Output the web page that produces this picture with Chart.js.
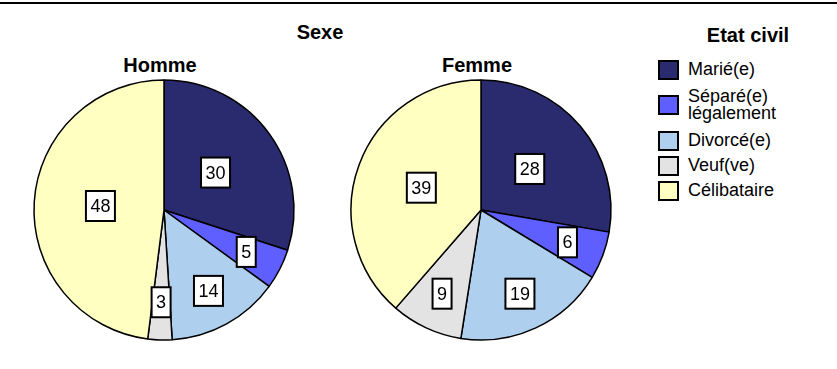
<!DOCTYPE html>
<html lang="fr">
<head>
<meta charset="utf-8">
<title>Etat civil selon le sexe</title>
<script src="https://cdn.jsdelivr.net/npm/chart.js@4.4.1/dist/chart.umd.min.js"></script>
<style>
    body { margin: 0; width: 837px; height: 369px; background: #fff; position: relative; overflow: hidden; font-family: "Liberation Sans", Arial, sans-serif; color: #000; }
    .rule { position: absolute; left: 0; top: 2px; width: 837px; height: 2px; background: #000; }
    .heading { position: absolute; font-weight: bold; font-size: 20px; line-height: 24px; transform: translate(-50%, -50%); white-space: nowrap; }
    canvas { position: absolute; }
    #legend { position: absolute; left: 658px; top: 57px; }
    .item { display: flex; align-items: center; min-height: 25px; font-size: 18px; line-height: 17px; }
    .item.multi { padding: 6px 0; }
    .swatch { box-sizing: border-box; width: 21px; height: 20px; border: 2px solid #000; margin-right: 9px; flex: none; }
</style>
</head>
<body>
<div class="rule"></div>
<div class="heading" style="left:320px;top:32px">Sexe</div>
<div class="heading" style="left:160px;top:65px">Homme</div>
<div class="heading" style="left:477px;top:65px">Femme</div>
<div class="heading" style="left:748px;top:35px">Etat civil</div>
<div id="legend"></div>
<canvas id="homme" width="270" height="270" style="left:29px;top:75px"></canvas>
<canvas id="femme" width="270" height="270" style="left:346px;top:75px"></canvas>
<script>
const categories = [['Marié(e)'], ['Séparé(e)', 'légalement'], ['Divorcé(e)'], ['Veuf(ve)'], ['Célibataire']];
const hommeValues = [30, 5, 14, 3, 48];
const femmeValues = [28, 6, 19, 9, 39];
const sliceColors = ['#2a2a6e', '#5f5fff', '#aed0ee', '#e3e3e3', '#ffffc2'];

Chart.defaults.font.family = '"Liberation Sans", Arial, sans-serif';
Chart.defaults.color = '#000';

// white boxed value labels; big slices get them nearer the centre
const boxedLabels = {
    id: 'boxedLabels',
    afterDatasetsDraw(chart) {
        const { ctx } = chart;
        const meta = chart.getDatasetMeta(0);
        const values = chart.data.datasets[0].data;
        ctx.save();
        ctx.font = '18px "Liberation Sans", Arial, sans-serif';
        ctx.textAlign = 'center';
        ctx.textBaseline = 'middle';
        meta.data.forEach((arc, i) => {
            const { x, y, startAngle, endAngle, outerRadius } = arc.getProps(['x', 'y', 'startAngle', 'endAngle', 'outerRadius'], true);
            const mid = (startAngle + endAngle) / 2;
            const r = outerRadius * (values[i] >= 25 ? 0.49 : 0.71);
            const cx = x + Math.cos(mid) * r;
            const cy = y + Math.sin(mid) * r;
            const text = String(values[i]);
            const w = Math.round(ctx.measureText(text).width) + 9;
            const h = 30;
            ctx.fillStyle = '#fff';
            ctx.fillRect(cx - w / 2, cy - h / 2, w, h);
            ctx.lineWidth = 2;
            ctx.strokeStyle = '#000';
            ctx.strokeRect(cx - w / 2, cy - h / 2, w, h);
            ctx.fillStyle = '#000';
            ctx.fillText(text, cx, cy + 1);
        });
        ctx.restore();
    },
};

function pie(id, values) {
    new Chart(document.getElementById(id), {
        type: 'pie',
        data: {
            labels: categories.map(c => c.join(' ')),
            datasets: [{ data: values, backgroundColor: sliceColors, borderColor: '#000', borderWidth: 1.5 }],
        },
        options: {
            responsive: false,
            animation: false,
            radius: 130,
            events: [],
            plugins: { legend: { display: false }, tooltip: { enabled: false } },
        },
        plugins: [boxedLabels],
    });
}

pie('homme', hommeValues);
pie('femme', femmeValues);

const legend = document.getElementById('legend');
categories.forEach((lines, i) => {
    const row = document.createElement('div');
    row.className = 'item' + (lines.length > 1 ? ' multi' : '');
    const sw = document.createElement('span');
    sw.className = 'swatch';
    sw.style.background = sliceColors[i];
    const label = document.createElement('span');
    label.innerHTML = lines.join('<br>');
    row.append(sw, label);
    legend.append(row);
});
</script>
</body>
</html>
